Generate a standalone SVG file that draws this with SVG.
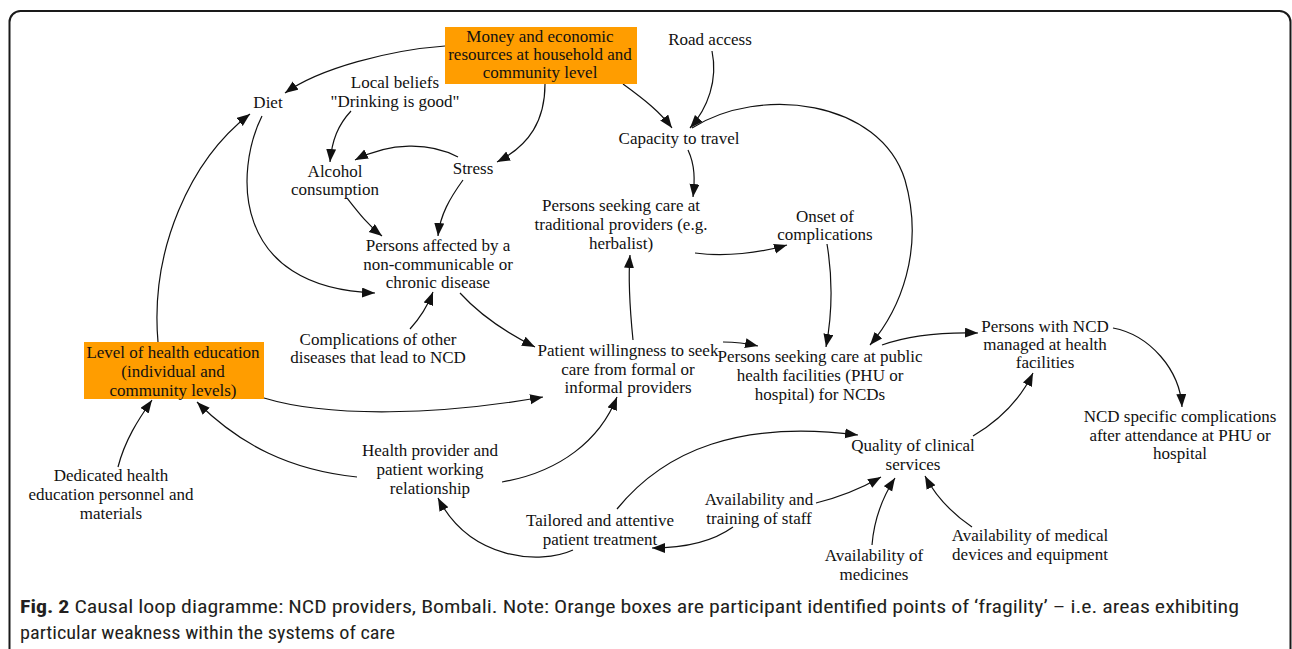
<svg xmlns="http://www.w3.org/2000/svg" width="1292" height="649" viewBox="0 0 1292 649">
<style>
.t{font-family:"Liberation Serif","Times New Roman",serif;font-size:17px;fill:#111;text-anchor:middle}
.e{fill:none;stroke:#111;stroke-width:1.2;marker-end:url(#ah)}
.box{fill:#FF9D00}
.cap{font-family:"Liberation Sans Narrow","Roboto Condensed","Open Sans",sans-serif;font-size:19px;fill:#231f20}
</style>
<defs>
<marker id="ah" markerUnits="userSpaceOnUse" markerWidth="14" markerHeight="11" refX="13" refY="5" orient="auto">
<path d="M0,0 L13,5 L0,10 z" fill="#111"/>
</marker>
</defs>
<rect x="9.5" y="11" width="1281" height="720" rx="11" fill="#fff" stroke="#1a1a1a" stroke-width="2"/>

<g id="connectors">
<path class="e" d="M445,46 C390,50 320,68 285,93"/>
<path class="e" d="M545,84 C545,120 530,145 497,162"/>
<path class="e" d="M623,84 C645,100 660,112 672,128"/>
<path class="e" d="M712,51 C718,80 708,108 690,128"/>
<path class="e" d="M351,111 C338,125 332,140 330,162"/>
<path class="e" d="M458,157 C430,142 390,142 355,160"/>
<path class="e" d="M262,116 C235,170 230,288 375,293"/>
<path class="e" d="M347,198 C358,212 368,225 382,236"/>
<path class="e" d="M463,180 C450,198 440,215 438,236"/>
<path class="e" d="M410,329 C420,318 428,305 433,292"/>
<path class="e" d="M460,293 C480,315 505,332 535,347"/>
<path class="e" d="M158,342 C150,250 190,160 250,114"/>
<path class="e" d="M264,398 C330,418 440,415 543,397"/>
<path class="e" d="M357,477 C290,470 240,445 197,402"/>
<path class="e" d="M118,467 C125,440 138,420 152,400"/>
<path class="e" d="M502,482 C560,472 600,440 617,397"/>
<path class="e" d="M633,340 C630,310 628,280 630,255"/>
<path class="e" d="M723,342 C735,342 745,343 758,346"/>
<path class="e" d="M688,150 C695,165 695,180 693,197"/>
<path class="e" d="M695,253 C725,257 760,253 787,245"/>
<path class="e" d="M827,244 C833,280 832,315 826,347"/>
<path class="e" d="M692,128 C760,85 880,100 905,180 C925,250 900,310 870,345"/>
<path class="e" d="M882,345 C910,335 940,332 978,333"/>
<path class="e" d="M1113,328 C1150,335 1180,370 1182,407"/>
<path class="e" d="M973,436 C1000,420 1020,400 1033,373"/>
<path class="e" d="M617,509 C665,450 740,420 858,435"/>
<path class="e" d="M816,503 C840,497 862,488 881,477"/>
<path class="e" d="M733,527 C715,540 690,548 652,548"/>
<path class="e" d="M872,545 C874,520 882,498 895,478"/>
<path class="e" d="M972,527 C950,512 935,495 925,476"/>
<path class="e" d="M573,550 C540,565 470,560 438,498"/>
</g>

<g id="money"><rect class="box" x="445" y="27" width="192" height="57"/>
<text class="t" x="540" y="42">Money and economic</text><text class="t" x="540" y="60">resources at household and</text><text class="t" x="540" y="78">community level</text></g>
<g id="diet"><text class="t" x="268" y="108">Diet</text></g>
<g id="beliefs"><text class="t" x="395" y="88">Local beliefs</text><text class="t" x="395" y="107">&quot;Drinking is good&quot;</text></g>
<g id="alcohol"><text class="t" x="335" y="177">Alcohol</text><text class="t" x="335" y="195">consumption</text></g>
<g id="stress"><text class="t" x="473" y="174">Stress</text></g>
<g id="capacity"><text class="t" x="679" y="144">Capacity to travel</text></g>
<g id="road"><text class="t" x="710" y="45">Road access</text></g>
<g id="traditional"><text class="t" x="621" y="211">Persons seeking care at</text><text class="t" x="621" y="230">traditional providers (e.g.</text><text class="t" x="621" y="249">herbalist)</text></g>
<g id="onset"><text class="t" x="825" y="222">Onset of</text><text class="t" x="825" y="240">complications</text></g>
<g id="affected"><text class="t" x="438" y="251">Persons affected by a</text><text class="t" x="438" y="270">non-communicable or</text><text class="t" x="438" y="288">chronic disease</text></g>
<g id="complications"><text class="t" x="378" y="345">Complications of other</text><text class="t" x="378" y="363">diseases that lead to NCD</text></g>
<g id="education"><rect class="box" x="84" y="342" width="180" height="57"/>
<text class="t" x="173" y="358">Level of health education</text><text class="t" x="173" y="377">(individual and</text><text class="t" x="173" y="396">community levels)</text></g>
<g id="dedicated"><text class="t" x="111" y="481">Dedicated health</text><text class="t" x="111" y="500">education personnel and</text><text class="t" x="111" y="519">materials</text></g>
<g id="relationship"><text class="t" x="430" y="456">Health provider and</text><text class="t" x="430" y="475">patient working</text><text class="t" x="430" y="494">relationship</text></g>
<g id="willingness"><text class="t" x="628" y="356">Patient willingness to seek</text><text class="t" x="628" y="375">care from formal or</text><text class="t" x="628" y="393">informal providers</text></g>
<g id="public"><text class="t" x="820" y="362">Persons seeking care at public</text><text class="t" x="820" y="381">health facilities (PHU or</text><text class="t" x="820" y="400">hospital) for NCDs</text></g>
<g id="managed"><text class="t" x="1045" y="332">Persons with NCD</text><text class="t" x="1045" y="350">managed at health</text><text class="t" x="1045" y="368">facilities</text></g>
<g id="ncdcomp"><text class="t" x="1180" y="422">NCD specific complications</text><text class="t" x="1180" y="441">after attendance at PHU or</text><text class="t" x="1180" y="459">hospital</text></g>
<g id="quality"><text class="t" x="913" y="451">Quality of clinical</text><text class="t" x="913" y="470">services</text></g>
<g id="tailored"><text class="t" x="600" y="526">Tailored and attentive</text><text class="t" x="600" y="545">patient treatment</text></g>
<g id="staff"><text class="t" x="759" y="505">Availability and</text><text class="t" x="759" y="524">training of staff</text></g>
<g id="medicines"><text class="t" x="874" y="561">Availability of</text><text class="t" x="874" y="580">medicines</text></g>
<g id="devices"><text class="t" x="1030" y="541">Availability of medical</text><text class="t" x="1030" y="560">devices and equipment</text></g>

<g id="caption">
<text class="cap" x="20" y="613" textLength="1219" lengthAdjust="spacingAndGlyphs"><tspan font-weight="bold">Fig. 2</tspan> Causal loop diagramme: NCD providers, Bombali. Note: Orange boxes are participant identified points of ‘fragility’ – i.e. areas exhibiting</text>
<text class="cap" x="20" y="639" textLength="375" lengthAdjust="spacingAndGlyphs">particular weakness within the systems of care</text>
</g>
</svg>
